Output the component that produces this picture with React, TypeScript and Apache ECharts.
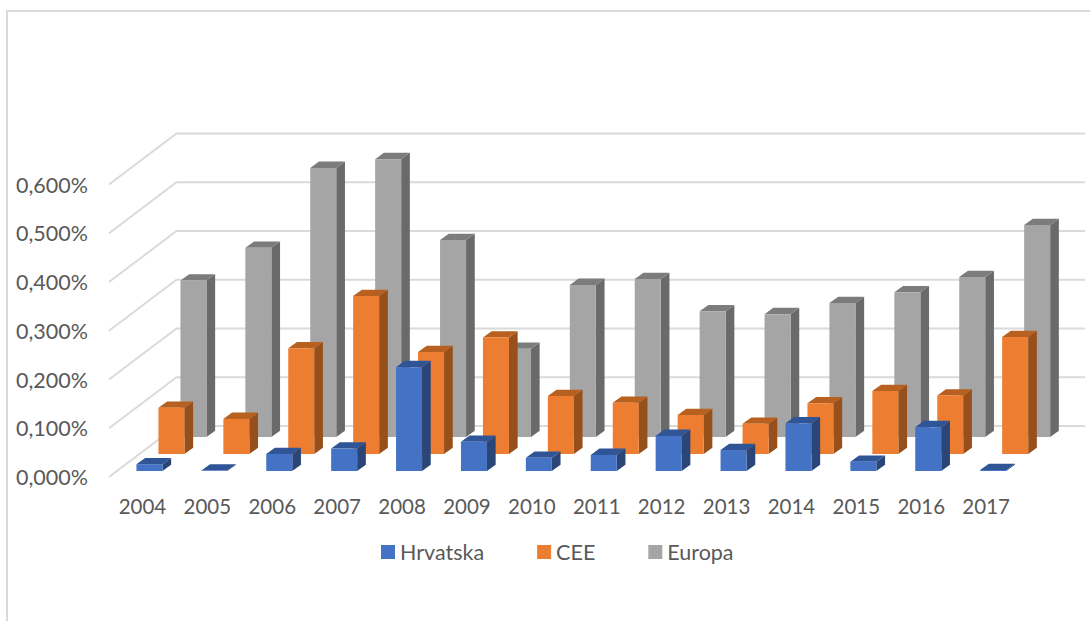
import React, { useEffect, useRef } from "react";
import * as echarts from "echarts";

const years = ["2004","2005","2006","2007","2008","2009","2010","2011","2012","2013","2014","2015","2016","2017"];
const hrvatska = [0.014,0.001,0.035,0.046,0.213,0.060,0.027,0.033,0.072,0.043,0.098,0.019,0.090,0.002];
const cee = [0.095,0.072,0.217,0.324,0.209,0.239,0.119,0.105,0.080,0.062,0.104,0.129,0.120,0.240];
const europa = [0.321,0.388,0.552,0.570,0.404,0.181,0.312,0.324,0.258,0.252,0.275,0.297,0.328,0.435];
const ticks = [0,0.1,0.2,0.3,0.4,0.5,0.6];

const GRID = { left: 110, top: 184.5, width: 908.6, height: 292.5 };
const WALL_DX = 66.5;
const WALL_DY = 51;
const BAR_W = 26;
const CAP_DX = 8.7;
const CAP_DY = 6.3;
const GRID_COLOR = "#DADADA";
const TEXT_COLOR = "#595959";
const FONT = "Lato, 'Noto Sans', sans-serif";

function barSeries(name: string, values: number[], dx: number, dy: number, front: string, side: string, top: string) {
  return {
    type: "custom",
    name,
    data: values.map((v, i) => [i, v]),
    encode: { x: 0, y: 1 },
    itemStyle: { color: front },
    clip: false,
    renderItem: (_p: any, api: any) => {
      const c = api.coord([api.value(0), api.value(1)]);
      const z = api.coord([api.value(0), 0]);
      const x0 = c[0] + dx - BAR_W / 2;
      const x1 = x0 + BAR_W;
      const yT = c[1] - dy;
      const yB = z[1] - dy;
      return {
        type: "group",
        children: [
          {
            type: "polygon",
            shape: { points: [[x1, yT], [x1 + CAP_DX, yT - CAP_DY], [x1 + CAP_DX, yB - CAP_DY], [x1, yB]] },
            style: { fill: side },
          },
          {
            type: "polygon",
            shape: { points: [[x0, yT], [x0 + CAP_DX, yT - CAP_DY], [x1 + CAP_DX, yT - CAP_DY], [x1, yT]] },
            style: { fill: top },
          },
          {
            type: "rect",
            shape: { x: x0, y: yT, width: BAR_W, height: yB - yT },
            style: { fill: front },
          },
        ],
      };
    },
  };
}

export default function App() {
  const ref = useRef<HTMLDivElement>(null);
  useEffect(() => {
    if (!ref.current) return;
    const chart = echarts.init(ref.current, undefined, { renderer: "svg" });
    chart.setOption({
      animation: false,
      backgroundColor: "#fff",
      textStyle: { fontFamily: FONT },
      grid: { ...GRID },
      xAxis: {
        type: "category",
        data: years,
        axisLine: { show: false },
        axisTick: { show: false },
        splitLine: { show: false },
        axisLabel: { color: TEXT_COLOR, fontSize: 20.5, fontFamily: FONT, margin: 18, interval: 0 },
      },
      yAxis: {
        type: "value",
        min: 0,
        max: 0.6,
        interval: 0.1,
        axisLine: { show: false },
        axisTick: { show: false },
        splitLine: { show: false },
        axisLabel: {
          color: TEXT_COLOR,
          fontSize: 21.5,
          fontFamily: FONT,
          margin: 22,
          formatter: (v: number) => v.toFixed(3).replace(".", ",") + "%",
        },
      },
      legend: {
        left: 381,
        top: 541,
        padding: 0,
        icon: "rect",
        itemWidth: 14,
        itemHeight: 14,
        itemGap: 53,
        data: ["Hrvatska", "CEE", "Europa"],
        textStyle: { color: TEXT_COLOR, fontSize: 21.5, fontFamily: FONT },
      },
      graphic: [
        { type: "rect", shape: { x: 6, y: 10, width: 2, height: 611 }, style: { fill: GRID_COLOR } },
        { type: "rect", shape: { x: 6, y: 10, width: 1084, height: 2 }, style: { fill: GRID_COLOR } },
      ],
      series: [
        {
          type: "custom",
          name: "grid",
          data: ticks.map((t) => [0, t]),
          encode: { x: 0, y: 1 },
          clip: false,
          silent: true,
          renderItem: (p: any, api: any) => {
            const y = api.coord([0, api.value(1)])[1];
            const cs = p.coordSys;
            return {
              type: "polyline",
              shape: {
                points: [
                  [cs.x - 1, y],
                  [cs.x + WALL_DX, y - WALL_DY],
                  [cs.x + cs.width + WALL_DX, y - WALL_DY],
                ],
              },
              style: { fill: "none", stroke: GRID_COLOR, lineWidth: 2 },
            };
          },
        },
        barSeries("Europa", europa, 51, 40, "#A5A5A5", "#6A6A6A", "#7C7C7C"),
        barSeries("CEE", cee, 29, 23, "#ED7D31", "#97501B", "#B7601F"),
        barSeries("Hrvatska", hrvatska, 7, 6, "#4472C4", "#2A4679", "#2F5597"),
      ],
    });
    return () => chart.dispose();
  }, []);
  return <div ref={ref} style={{ position: "fixed", left: 0, top: 0, width: 1090, height: 621 }} />;
}
